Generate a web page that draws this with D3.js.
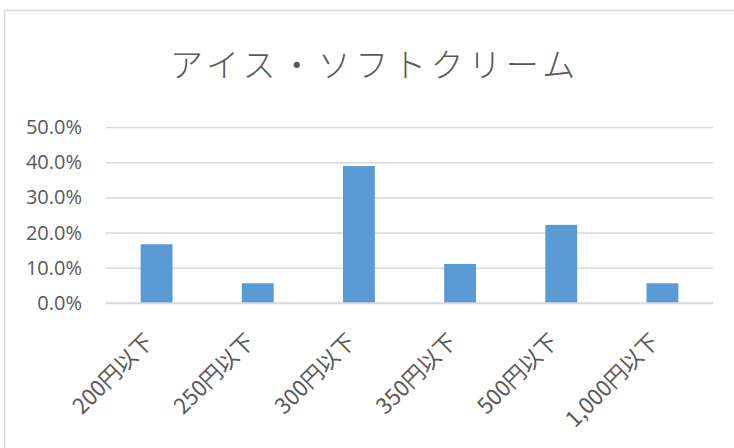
<!DOCTYPE html>
<html><head><meta charset="utf-8">
<script src="https://cdn.jsdelivr.net/npm/d3@7"></script>
<style>body{margin:0;background:#fff;} svg{display:block;}</style>
</head><body>
<svg id="c" width="734" height="448"></svg>
<script>
const title = "アイス・ソフトクリーム";
const categories = ["200円以下","250円以下","300円以下","350円以下","500円以下","1,000円以下"];
const values = [0.167, 0.056, 0.389, 0.111, 0.222, 0.056];
const yTicks = [0, 0.1, 0.2, 0.3, 0.4, 0.5];

const svg = d3.select("#c");
const W = 734, H = 448;
const m = {left:106, right:713, top:127, bottom:303};

svg.append("rect").attr("x",4.5).attr("y",10.5).attr("width",W+10).attr("height",H+10)
  .attr("fill","#fff").attr("stroke","#d9d9d9").attr("stroke-width",1.5);

const x = d3.scaleBand().domain(categories).range([m.left, m.right]).paddingInner(0.685).paddingOuter(0.3425);
const y = d3.scaleLinear().domain([0,0.5]).range([m.bottom, m.top]);

const fmt = d3.format(".1%");
const yAxis = d3.axisLeft(y).tickValues(yTicks).tickFormat(fmt).tickSize(-(m.right-m.left)).tickPadding(24);
const gy = svg.append("g").attr("transform",`translate(${m.left},0)`).call(yAxis);
gy.select(".domain").remove();
gy.selectAll(".tick line").attr("stroke","#d9d9d9").attr("stroke-width",1.5);
gy.selectAll(".tick text").attr("fill","#595959").attr("font-size",20)
  .attr("font-family","'Open Sans', 'Noto Sans', sans-serif");

svg.append("g").selectAll("rect").data(values).join("rect")
  .attr("x",(d,i)=>x(categories[i])).attr("width",x.bandwidth())
  .attr("y",d=>y(d)).attr("height",d=>y(0)-y(d)).attr("fill","#5b9bd5");

svg.append("line").attr("x1",m.left).attr("x2",m.right).attr("y1",y(0)).attr("y2",y(0))
  .attr("stroke","#d9d9d9").attr("stroke-width",1.5);

svg.append("g").selectAll("text").data(categories).join("text")
  .attr("transform",d=>`translate(${x(d)+x.bandwidth()/2-2},${y(0)+40}) rotate(-45)`)
  .attr("text-anchor","end").attr("fill","#595959").attr("font-size",22)
  .attr("font-family","'Noto Sans CJK JP', sans-serif")
  .text(d=>d);

svg.append("text").attr("x",375).attr("y",77).attr("text-anchor","middle")
  .attr("fill","#595959").attr("font-size",33).attr("font-weight",300).attr("letter-spacing",4.6)
  .attr("font-family","'Noto Sans CJK JP', sans-serif").text(title);
</script>
</body></html>
